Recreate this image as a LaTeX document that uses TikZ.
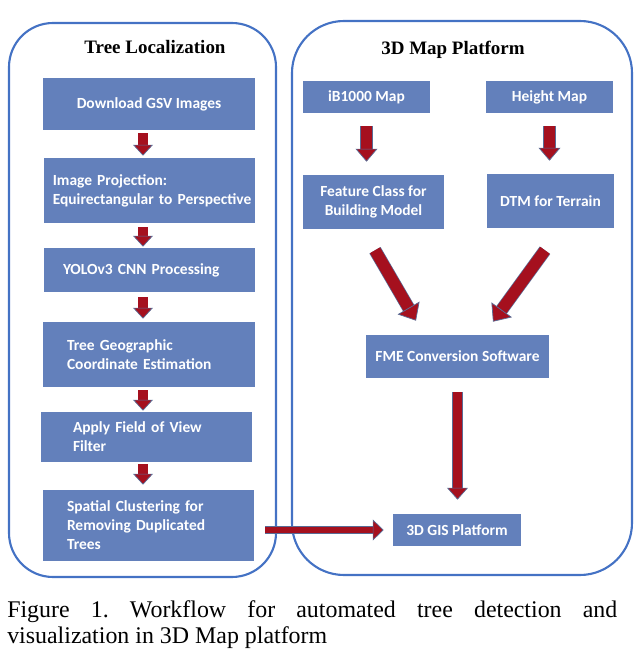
\documentclass[tikz,border=0pt]{standalone}
\usepackage{fontspec}
\setmainfont{Liberation Serif}
\newfontfamily\boxfont{Carlito}
\usetikzlibrary{arrows.meta,calc}

\definecolor{boxblue}{RGB}{99,128,187}
\definecolor{frameblue}{RGB}{68,114,196}
\definecolor{arrowred}{RGB}{165,16,30}
\definecolor{arrowedge}{RGB}{88,108,150}

\newcommand\nohyph{\hyphenpenalty 10000\relax}

\tikzset{
  box/.style={fill=boxblue,text=white,inner sep=0pt,
    font=\boxfont\bfseries\fontsize{11}{13.5}\selectfont\nohyph},
  cbox/.style={box,align=center},
  lbox/.style={box,align=left},
  frame/.style={draw=frameblue,line width=1.5pt},
  title/.style={font=\bfseries\fontsize{13.5}{16}\selectfont},
  blockarrow/.style n args={3}{draw=arrowedge,line width=0.5pt,
    double=arrowred,double distance=#1,
    -{Triangle[width=#2,length=#3,line width=0.5pt,fill=arrowred]}}
}

\begin{document}
\begin{tikzpicture}

\useasboundingbox (0,0) rectangle (16,16.5);

%% - Draw frames
%% - --------------------------------------

\draw[frame,rounded corners=1.1cm] (0.225,2.075) rectangle (6.9,15.925);
\draw[frame,rounded corners=1.3cm] (7.3,2.125) rectangle (15.8,15.975);

\node[title] (loctitle) at (3.875,15.325) {Tree Localization};
\node[title] (maptitle) at (11.325,15.25) {3D Map Platform};

%% - Tree localization boxes
%% - --------------------------------------

\node[cbox,minimum width=5.3cm,minimum height=1.3cm] (gsv) at (3.725,13.9) {Download GSV Images};
\node[lbox,minimum height=1.625cm,inner xsep=0.22cm,text width=4.835cm] (proj) at (3.7375,11.7375) {Image Projection:\\\mbox{Equirectangular to Perspective}};
\node[lbox,minimum height=1.1cm,inner xsep=0.475cm,text width=4.325cm] (yolo) at (3.7375,9.75) {YOLOv3 CNN Processing};
\node[lbox,minimum height=1.625cm,inner xsep=0.6cm,text width=4.1cm] (geo) at (3.725,7.6375) {Tree Geographic\\Coordinate Estimation};
\node[lbox,minimum height=1.25cm,inner xsep=0.8cm,text width=3.675cm] (fov) at (3.6625,5.575) {Apply Field of View\\Filter};
\node[lbox,minimum height=1.775cm,inner xsep=0.6cm,text width=4.075cm] (clust) at (3.7125,3.3625) {Spatial Clustering for\\Removing Duplicated\\Trees};

%% - 3D map platform boxes
%% - --------------------------------------

\node[cbox,minimum width=3.175cm,minimum height=0.8cm] (ibmap) at (9.1625,14.075) {iB1000 Map};
\node[cbox,minimum width=3.175cm,minimum height=0.8cm] (hmap) at (13.7375,14.075) {Height Map};
\node[cbox,minimum width=3.525cm,minimum height=1.35cm] (feat) at (9.3375,11.45) {Feature Class for\\Building Model};
\node[cbox,minimum width=3.175cm,minimum height=1.35cm] (dtm) at (13.7625,11.475) {DTM for Terrain};
\node[cbox,minimum width=4.575cm,minimum height=1.075cm] (fme) at (11.4375,7.5875) {FME Conversion Software};
\node[cbox,minimum width=3.2cm,minimum height=0.8cm] (gis) at (11.425,3.25) {3D GIS Platform};

%% - Draw block arrows
%% - --------------------------------------

\coordinate (lx) at (3.575,0);
\draw[blockarrow={6.5pt}{14.2pt}{7.8pt},shorten <=0.075cm,shorten >=0.05cm] (gsv.south -| lx) -- (proj.north -| lx);
\draw[blockarrow={6.5pt}{14.2pt}{7.8pt},shorten <=0.1cm,shorten >=0.025cm] (proj.south -| lx) -- (yolo.north -| lx);
\draw[blockarrow={6.5pt}{14.2pt}{7.8pt},shorten <=0.125cm,shorten >=0.075cm] (yolo.south -| lx) -- (geo.north -| lx);
\draw[blockarrow={6.5pt}{14.2pt}{7.8pt},shorten <=0.075cm,shorten >=0.025cm] (geo.south -| lx) -- (fov.north -| lx);
\draw[blockarrow={6.5pt}{14.2pt}{7.8pt},shorten <=0.05cm,shorten >=0.125cm] (fov.south -| lx) -- (clust.north -| lx);

\draw[blockarrow={8.2pt}{15.6pt}{9.2pt},shorten <=0.325cm,shorten >=0.325cm] (ibmap.south) -- (ibmap.south |- feat.north);
\draw[blockarrow={8.2pt}{15.6pt}{9.2pt},shorten <=0.325cm,shorten >=0.325cm] (hmap.south) -- (hmap.south |- dtm.north);

\draw[blockarrow={8.2pt}{18pt}{10.5pt}] ($(feat.south)+(0.0375,-0.525)$) -- ($(fme.north)+(-1.0375,0.35)$);
\draw[blockarrow={8.2pt}{18pt}{10.5pt}] ($(dtm.south)+(-0.1375,-0.55)$) -- ($(fme.north)+(0.8875,0.325)$);

\draw[blockarrow={6.8pt}{15pt}{8.5pt},shorten <=0.35cm,shorten >=0.35cm] (fme.south) -- (fme.south |- gis.north);
\draw[blockarrow={4.7pt}{15pt}{7.8pt},shorten <=0.275cm,shorten >=0.225cm] (clust.east |- gis.west) -- (gis.west);

%% - Caption
%% - --------------------------------------

\node[anchor=north west,inner sep=0pt,text width=15.25cm,align=justify,font=\fontsize{17}{18.5}\selectfont\frenchspacing] (caption) at (0.175,1.5) {Figure 1. Workflow for automated tree detection and\linebreak visualization in 3D Map platform};

\end{tikzpicture}
\end{document}
